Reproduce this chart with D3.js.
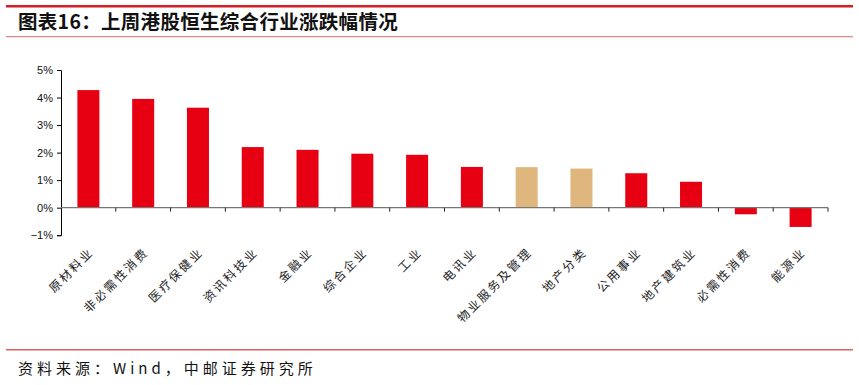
<!DOCTYPE html>
<html>
<head>
<meta charset="utf-8">
<script src="https://cdn.jsdelivr.net/npm/d3@7"></script>
<style>
  body { margin: 0; background: #fff; }
  svg { display: block; }
</style>
</head>
<body>
<script>
// categories and weekly change (%)
var categories = ['原材料业', '非必需性消费', '医疗保健业', '资讯科技业', '金融业', '综合企业', '工业',
  '电讯业', '物业服务及管理', '地产分类', '公用事业', '地产建筑业', '必需性消费', '能源业'];
var changes = [4.27, 3.95, 3.63, 2.20, 2.10, 1.96, 1.92, 1.48, 1.47, 1.42, 1.25, 0.94, -0.24, -0.70];
// the two property-related sectors are drawn in tan
var highlighted = ['物业服务及管理', '地产分类'];
var yTicks = [-1, 0, 1, 2, 3, 4, 5];

var W = 859, H = 385;
var svg = d3.select('body').append('svg')
  .attr('width', W)
  .attr('height', H);

// header / footer rules
svg.append('rect').attr('x', 6).attr('y', 5).attr('width', 847).attr('height', 2.5).attr('fill', '#d21f26');
svg.append('rect').attr('x', 6).attr('y', 36).attr('width', 847).attr('height', 1.3).attr('fill', '#e08a8a');
svg.append('rect').attr('x', 6).attr('y', 349).attr('width', 847).attr('height', 1.5).attr('fill', '#d96464');

svg.append('text')
  .attr('x', 18).attr('y', 29)
  .attr('font-family', '"Noto Sans CJK SC", sans-serif')
  .attr('font-weight', 'bold')
  .attr('font-size', 19.5)
  .attr('letter-spacing', 0.3)
  .attr('fill', '#111')
  .text('图表16：上周港股恒生综合行业涨跌幅情况');

svg.append('text')
  .attr('x', 18).attr('y', 374)
  .attr('font-family', '"Noto Sans CJK SC", sans-serif')
  .attr('font-size', 15)
  .attr('letter-spacing', 4)
  .attr('fill', '#111')
  .text('资料来源：Wind，中邮证券研究所');

// scales
var xb = d3.scaleBand().domain(categories).range([61, 828]);
var y = d3.scaleLinear().domain([-1, 5]).range([235.2, 70]);

// bars
svg.append('g').selectAll('rect').data(categories)
  .enter()
  .append('rect')
  .attr('x', function(d){ return xb(d) + (xb.bandwidth() - 22) / 2 })
  .attr('width', 22)
  .attr('y', function(d, i){ return y(Math.max(0, changes[i])) })
  .attr('height', function(d, i){ return Math.abs(y(changes[i]) - y(0)) })
  .attr('fill', function(d){ return highlighted.indexOf(d) >= 0 ? '#dfb77e' : '#e60012' });

// y axis
var yAxis = svg.append('g')
  .attr('transform', 'translate(61,0)')
  .call(d3.axisLeft(y).tickValues(yTicks).tickSize(4).tickPadding(4)
    .tickFormat(function(d){ return (d < 0 ? '\u2212' + (-d) : d) + '%' }));
yAxis.select('.domain').attr('stroke', '#000');
yAxis.selectAll('text')
  .attr('font-family', 'Arial, "Liberation Sans", sans-serif')
  .attr('font-size', 11)
  .attr('fill', '#111');

// zero line with ticks at band boundaries
var zero = svg.append('g');
zero.append('line')
  .attr('x1', 61).attr('x2', 828)
  .attr('y1', y(0)).attr('y2', y(0))
  .attr('stroke', '#777').attr('stroke-width', 1.2);
zero.selectAll('line.tk').data(categories)
  .enter()
  .append('line')
  .attr('class', 'tk')
  .attr('x1', function(d){ return xb(d) + xb.bandwidth() })
  .attr('x2', function(d){ return xb(d) + xb.bandwidth() })
  .attr('y1', y(0)).attr('y2', y(0) + 4)
  .attr('stroke', '#222');

// category labels, rotated
svg.append('g').selectAll('text').data(categories)
  .enter()
  .append('text')
  .attr('transform', function(d){
    return 'translate(' + (xb(d) + xb.bandwidth() / 2 + 6) + ',' + 253 + ') rotate(-45)';
  })
  .attr('text-anchor', 'end')
  .attr('font-family', '"Noto Sans CJK SC", serif')
  .attr('font-size', 12)
  .attr('letter-spacing', 2.2)
  .attr('fill', '#222')
  .text(function(d){ return d });
</script>
</body>
</html>
